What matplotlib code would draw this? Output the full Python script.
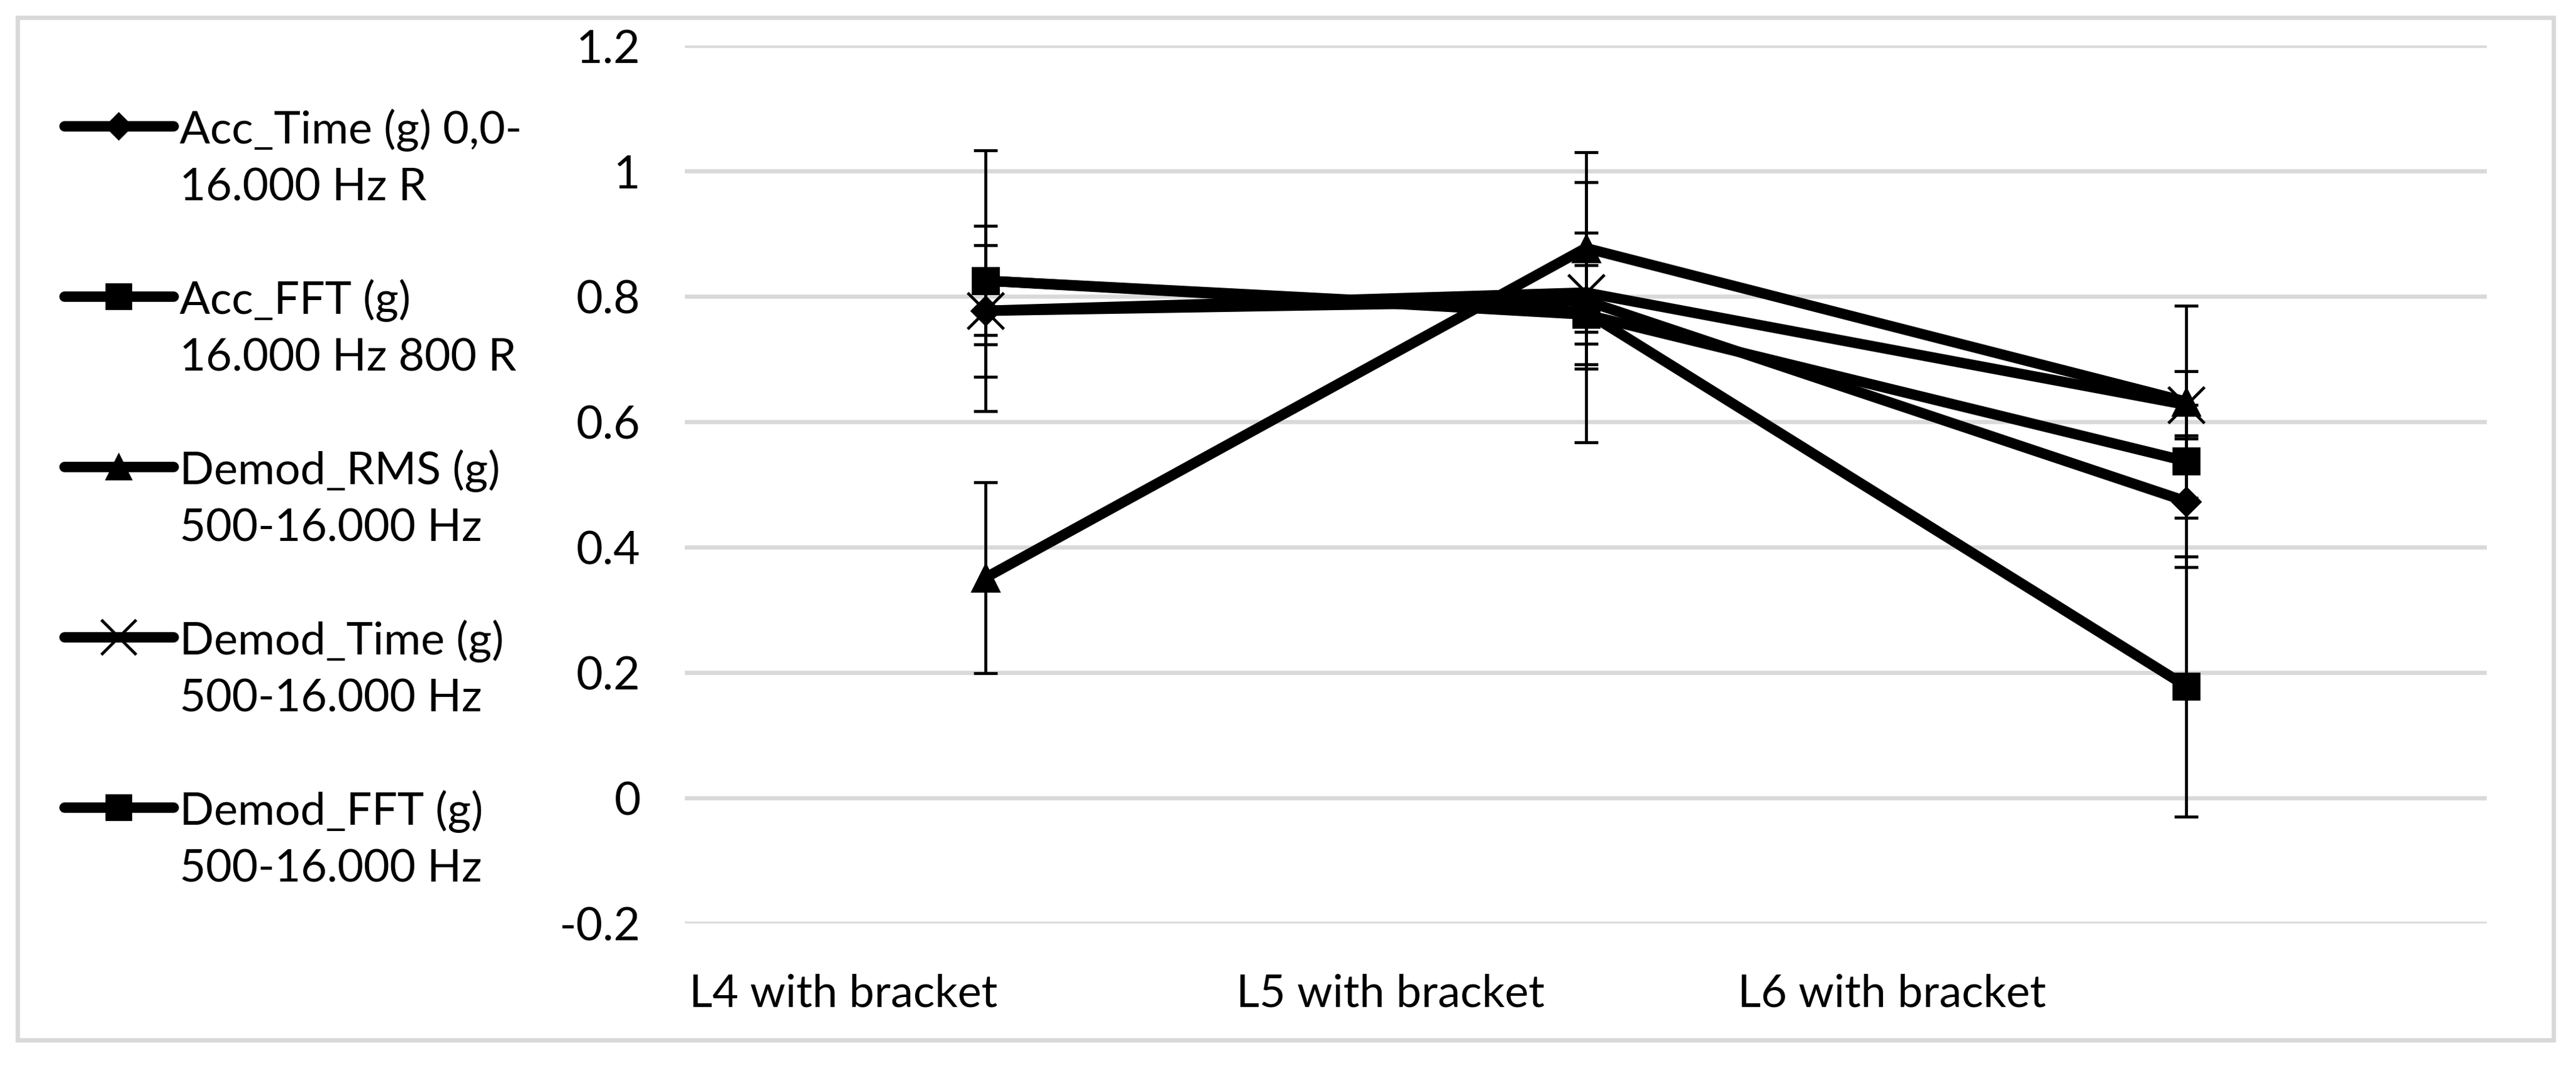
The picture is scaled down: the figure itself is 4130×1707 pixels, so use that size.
import numpy as np
import matplotlib.pyplot as plt
from matplotlib.patches import Rectangle

plt.rcParams['font.family'] = ['Lato', 'DejaVu Sans']

# categories and the position of their labels (data units, as in the picture)
categories = ["L4 with bracket", "L5 with bracket", "L6 with bracket"]
label_pos = [-0.236, 0.675, 1.509]

legend_labels = [
    ("Acc_Time (g) 0,0-", "16.000 Hz R"),
    ("Acc_FFT (g)", "16.000 Hz 800 R"),
    ("Demod_RMS (g)", "500-16.000 Hz"),
    ("Demod_Time (g)", "500-16.000 Hz"),
    ("Demod_FFT (g)", "500-16.000 Hz"),
]

acc_time = [0.777, 0.793, 0.473]
acc_time_err = [0.105, 0.108, 0.105]
acc_fft = [0.825, 0.771, 0.537]
acc_fft_err = [0.087, 0.079, 0.090]
demod_rms = [0.351, 0.877, 0.632]
demod_rms_err = [0.152, 0.153, 0.153]
demod_time = [0.777, 0.806, 0.627]
demod_time_err = [0.054, 0.063, 0.054]
demod_fft = [0.825, 0.775, 0.178]
demod_fft_err = [0.208, 0.2075, 0.2075]

yticks = [-0.2, 0, 0.2, 0.4, 0.6, 0.8, 1.0, 1.2]
ytick_labels = ["-0.2", "0", "0.2", "0.4", "0.6", "0.8", "1", "1.2"]

series = [acc_time, acc_fft, demod_rms, demod_time, demod_fft]
errors = [acc_time_err, acc_fft_err, demod_rms_err, demod_time_err, demod_fft_err]
# marker, size, edge width
styles = [("D", 23, 2), ("s", 30, 2), ("^", 31, 2), ("x", 42, 3.4), ("s", 30, 2)]

W, H = 4130, 1708
fig = plt.figure(figsize=(W / 100, H / 100), dpi=100)
ax = fig.add_axes([1098 / W, 1 - 1481 / H, (3987 - 1098) / W, (1481 - 74) / H])

x = np.arange(len(categories))
for vals, err, (mk, ms, mew) in zip(series, errors, styles):
    ax.plot(x, vals, color="black", lw=12, marker=mk, ms=ms, mfc="black",
            mec="black", mew=mew, solid_capstyle="round",
            solid_joinstyle="round", zorder=3)
    ax.errorbar(x, vals, yerr=err, fmt="none", ecolor="black", elinewidth=3.4,
                capsize=14, capthick=3.4, zorder=4)

ax.set_xlim(-0.5, 2.5)
ax.set_ylim(-0.2, 1.2)
ax.set_yticks(yticks)
ax.set_yticklabels(ytick_labels)
ax.set_xticks(label_pos)
ax.set_xticklabels(categories)
ax.tick_params(axis="y", length=0, pad=51, labelsize=53)
ax.tick_params(axis="x", length=0, pad=57, labelsize=52)
ax.yaxis.grid(True, color="#d9d9d9", lw=4.8)
ax.set_axisbelow(True)
for s in ax.spines.values():
    s.set_visible(False)

# legend drawn on an overlay in pixel coordinates
lax = fig.add_axes([0, 0, 1, 1], zorder=-1)
lax.set_xlim(0, W)
lax.set_ylim(H, 0)
lax.axis("off")
lax.add_patch(Rectangle((28, 29), 4094 - 28, 1668 - 29, fill=False,
                        ec="#d9d9d9", lw=5))
for i, ((l1, l2), (mk, ms, mew)) in enumerate(zip(legend_labels, styles)):
    y = 203 + i * 273
    lax.plot([103, 278], [y, y], color="black", lw=12, solid_capstyle="round")
    lax.plot([190], [y], marker=mk, ms=ms * 0.95, mfc="black", mec="black",
             mew=mew, ls="none")
    lax.text(288, y + 27, l1, fontsize=52, va="baseline", ha="left")
    lax.text(288, y + 92 + 27, l2, fontsize=52, va="baseline", ha="left")

fig.savefig("out.png", dpi=100, facecolor="white")
